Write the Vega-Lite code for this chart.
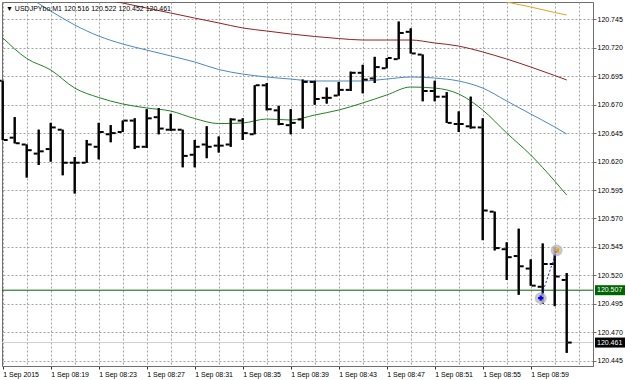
{
  "$schema": "https://vega.github.io/schema/vega-lite/v6.json",
  "width": 591,
  "height": 364,
  "autosize": "none",
  "padding": {"left": 2, "top": 2, "right": 32, "bottom": 14},
  "background": "white",
  "title": {"text": "▼  USDJPYbo,M1  120.516 120.522 120.452 120.461", "anchor": "start", "orient": "top", "frame": "group", "offset": -10, "dx": 4, "fontSize": 7, "fontWeight": "normal", "font": "Liberation Sans", "color": "#000000"},
  "datasets": {
    "bars": [
      {"t": "2015-09-01T08:15:00Z", "open": 120.691, "high": 120.691, "low": 120.639, "close": 120.639},
      {"t": "2015-09-01T08:16:00Z", "open": 120.641, "high": 120.659, "low": 120.636, "close": 120.636},
      {"t": "2015-09-01T08:17:00Z", "open": 120.635, "high": 120.635, "low": 120.606, "close": 120.630},
      {"t": "2015-09-01T08:18:00Z", "open": 120.627, "high": 120.648, "low": 120.617, "close": 120.629},
      {"t": "2015-09-01T08:19:00Z", "open": 120.631, "high": 120.654, "low": 120.620, "close": 120.650},
      {"t": "2015-09-01T08:20:00Z", "open": 120.648, "high": 120.648, "low": 120.608, "close": 120.619},
      {"t": "2015-09-01T08:21:00Z", "open": 120.619, "high": 120.624, "low": 120.592, "close": 120.619},
      {"t": "2015-09-01T08:22:00Z", "open": 120.619, "high": 120.639, "low": 120.619, "close": 120.635},
      {"t": "2015-09-01T08:23:00Z", "open": 120.633, "high": 120.654, "low": 120.622, "close": 120.646},
      {"t": "2015-09-01T08:24:00Z", "open": 120.644, "high": 120.652, "low": 120.637, "close": 120.645},
      {"t": "2015-09-01T08:25:00Z", "open": 120.646, "high": 120.656, "low": 120.646, "close": 120.656},
      {"t": "2015-09-01T08:26:00Z", "open": 120.656, "high": 120.658, "low": 120.631, "close": 120.633},
      {"t": "2015-09-01T08:27:00Z", "open": 120.633, "high": 120.666, "low": 120.632, "close": 120.658},
      {"t": "2015-09-01T08:28:00Z", "open": 120.659, "high": 120.667, "low": 120.644, "close": 120.649},
      {"t": "2015-09-01T08:29:00Z", "open": 120.648, "high": 120.662, "low": 120.647, "close": 120.648},
      {"t": "2015-09-01T08:30:00Z", "open": 120.648, "high": 120.648, "low": 120.615, "close": 120.625},
      {"t": "2015-09-01T08:31:00Z", "open": 120.626, "high": 120.639, "low": 120.615, "close": 120.633},
      {"t": "2015-09-01T08:32:00Z", "open": 120.635, "high": 120.651, "low": 120.623, "close": 120.633},
      {"t": "2015-09-01T08:33:00Z", "open": 120.634, "high": 120.642, "low": 120.628, "close": 120.634},
      {"t": "2015-09-01T08:34:00Z", "open": 120.635, "high": 120.658, "low": 120.633, "close": 120.657},
      {"t": "2015-09-01T08:35:00Z", "open": 120.656, "high": 120.658, "low": 120.639, "close": 120.645},
      {"t": "2015-09-01T08:36:00Z", "open": 120.644, "high": 120.687, "low": 120.644, "close": 120.687},
      {"t": "2015-09-01T08:37:00Z", "open": 120.687, "high": 120.689, "low": 120.665, "close": 120.666},
      {"t": "2015-09-01T08:38:00Z", "open": 120.665, "high": 120.669, "low": 120.652, "close": 120.653},
      {"t": "2015-09-01T08:39:00Z", "open": 120.652, "high": 120.666, "low": 120.644, "close": 120.654},
      {"t": "2015-09-01T08:40:00Z", "open": 120.657, "high": 120.692, "low": 120.649, "close": 120.690},
      {"t": "2015-09-01T08:41:00Z", "open": 120.690, "high": 120.691, "low": 120.670, "close": 120.675},
      {"t": "2015-09-01T08:42:00Z", "open": 120.676, "high": 120.685, "low": 120.671, "close": 120.676},
      {"t": "2015-09-01T08:43:00Z", "open": 120.678, "high": 120.690, "low": 120.678, "close": 120.683},
      {"t": "2015-09-01T08:44:00Z", "open": 120.683, "high": 120.699, "low": 120.682, "close": 120.698},
      {"t": "2015-09-01T08:45:00Z", "open": 120.698, "high": 120.705, "low": 120.680, "close": 120.692},
      {"t": "2015-09-01T08:46:00Z", "open": 120.693, "high": 120.712, "low": 120.689, "close": 120.703},
      {"t": "2015-09-01T08:47:00Z", "open": 120.702, "high": 120.711, "low": 120.702, "close": 120.711},
      {"t": "2015-09-01T08:48:00Z", "open": 120.710, "high": 120.743, "low": 120.710, "close": 120.733},
      {"t": "2015-09-01T08:49:00Z", "open": 120.734, "high": 120.737, "low": 120.715, "close": 120.715},
      {"t": "2015-09-01T08:50:00Z", "open": 120.714, "high": 120.714, "low": 120.673, "close": 120.682},
      {"t": "2015-09-01T08:51:00Z", "open": 120.682, "high": 120.691, "low": 120.673, "close": 120.677},
      {"t": "2015-09-01T08:52:00Z", "open": 120.677, "high": 120.681, "low": 120.654, "close": 120.654},
      {"t": "2015-09-01T08:53:00Z", "open": 120.653, "high": 120.664, "low": 120.646, "close": 120.653},
      {"t": "2015-09-01T08:54:00Z", "open": 120.651, "high": 120.677, "low": 120.649, "close": 120.650},
      {"t": "2015-09-01T08:55:00Z", "open": 120.650, "high": 120.658, "low": 120.551, "close": 120.577},
      {"t": "2015-09-01T08:56:00Z", "open": 120.576, "high": 120.576, "low": 120.542, "close": 120.544},
      {"t": "2015-09-01T08:57:00Z", "open": 120.543, "high": 120.549, "low": 120.516, "close": 120.536},
      {"t": "2015-09-01T08:58:00Z", "open": 120.537, "high": 120.561, "low": 120.503, "close": 120.528},
      {"t": "2015-09-01T08:59:00Z", "open": 120.526, "high": 120.534, "low": 120.511, "close": 120.511},
      {"t": "2015-09-01T09:00:00Z", "open": 120.510, "high": 120.548, "low": 120.495, "close": 120.530},
      {"t": "2015-09-01T09:01:00Z", "open": 120.530, "high": 120.545, "low": 120.493, "close": 120.519},
      {"t": "2015-09-01T09:02:00Z", "open": 120.516, "high": 120.522, "low": 120.452, "close": 120.461}
    ],
    "ma": [
      {"t": "2015-09-01T08:15:00Z", "g": 120.7288, "b": 120.7795, "r": 120.7839},
      {"t": "2015-09-01T08:17:00Z", "g": 120.7106, "b": 120.7655, "r": 120.7787},
      {"t": "2015-09-01T08:19:00Z", "g": 120.7005, "b": 120.7523, "r": 120.7734},
      {"t": "2015-09-01T08:21:00Z", "g": 120.6846, "b": 120.7400, "r": 120.7681},
      {"t": "2015-09-01T08:23:00Z", "g": 120.6763, "b": 120.7303, "r": 120.7637},
      {"t": "2015-09-01T08:25:00Z", "g": 120.6706, "b": 120.7233, "r": 120.7593},
      {"t": "2015-09-01T08:27:00Z", "g": 120.6671, "b": 120.7180, "r": 120.7549},
      {"t": "2015-09-01T08:29:00Z", "g": 120.6644, "b": 120.7128, "r": 120.7505},
      {"t": "2015-09-01T08:31:00Z", "g": 120.6578, "b": 120.7075, "r": 120.7461},
      {"t": "2015-09-01T08:33:00Z", "g": 120.6534, "b": 120.7009, "r": 120.7418},
      {"t": "2015-09-01T08:35:00Z", "g": 120.6539, "b": 120.6969, "r": 120.7374},
      {"t": "2015-09-01T08:37:00Z", "g": 120.6574, "b": 120.6943, "r": 120.7347},
      {"t": "2015-09-01T08:39:00Z", "g": 120.6565, "b": 120.6925, "r": 120.7321},
      {"t": "2015-09-01T08:41:00Z", "g": 120.6609, "b": 120.6908, "r": 120.7299},
      {"t": "2015-09-01T08:43:00Z", "g": 120.6653, "b": 120.6908, "r": 120.7281},
      {"t": "2015-09-01T08:45:00Z", "g": 120.6715, "b": 120.6908, "r": 120.7268},
      {"t": "2015-09-01T08:47:00Z", "g": 120.6785, "b": 120.6925, "r": 120.7268},
      {"t": "2015-09-01T08:49:00Z", "g": 120.6855, "b": 120.6943, "r": 120.7268},
      {"t": "2015-09-01T08:51:00Z", "g": 120.6846, "b": 120.6934, "r": 120.7242},
      {"t": "2015-09-01T08:53:00Z", "g": 120.6794, "b": 120.6908, "r": 120.7215, "o": 120.7690},
      {"t": "2015-09-01T08:55:00Z", "g": 120.6653, "b": 120.6846, "r": 120.7163, "o": 120.7646},
      {"t": "2015-09-01T08:57:00Z", "g": 120.6451, "b": 120.6732, "r": 120.7101, "o": 120.7602},
      {"t": "2015-09-01T08:59:00Z", "g": 120.6258, "b": 120.6618, "r": 120.7031, "o": 120.7558},
      {"t": "2015-09-01T09:01:00Z", "g": 120.6029, "b": 120.6504, "r": 120.6956, "o": 120.7510},
      {"t": "2015-09-01T09:02:00Z", "g": 120.5906, "b": 120.6442, "r": 120.6917, "o": 120.7488}
    ],
    "levels": [
      {"price": 120.507, "label": "120.507", "kind": "level"},
      {"price": 120.461, "label": "120.461", "kind": "bid"}
    ],
    "trade": [
      {"t": "2015-09-01T08:59:50Z", "price": 120.500, "kind": "open"},
      {"t": "2015-09-01T09:01:10Z", "price": 120.542, "kind": "close"}
    ]
  },
  "config": {
    "view": {"stroke": "#6e6e6e", "strokeWidth": 1},
    "font": "Liberation Sans",
    "axis": {
      "labelFont": "Liberation Sans",
      "labelFontSize": 7,
      "labelColor": "#000000",
      "labelOverlap": false,
      "domainColor": "#6e6e6e",
      "tickColor": "#6e6e6e"
    }
  },
  "resolve": {"scale": {"color": "independent", "shape": "independent"}},
  "layer": [
    {
      "data": {"name": "bars"},
      "mark": {"type": "rule", "strokeWidth": 2, "color": "#000000"},
      "encoding": {
        "x": {
          "field": "t", "type": "temporal",
          "scale": {"type": "utc", "domain": [1441095296500, 1441098251500]},
          "axis": {
            "orient": "bottom",
            "values": [1441095300000, 1441095420000, 1441095540000, 1441095660000, 1441095780000, 1441095900000, 1441096020000, 1441096140000, 1441096260000, 1441096380000, 1441096500000, 1441096620000, 1441096740000, 1441096860000, 1441096980000, 1441097100000, 1441097220000, 1441097340000, 1441097460000, 1441097580000, 1441097700000, 1441097820000, 1441097940000, 1441098060000, 1441098180000],
            "tickCount": 40,
            "labelExpr": "(utcminutes(datum.value) % 4 != 3 || datum.value > 1441098000000) ? '' : ((utchours(datum.value) == 8 && utcminutes(datum.value) == 15) ? '1 Sep 2015' : utcFormat(datum.value, '%-d %b %H:%M'))",
            "labelAlign": "left",
            "labelPadding": 1,
            "labelOverlap": false,
            "labelFlush": false,
            "tickSize": 3,
            "tickColor": {"condition": {"test": "utcminutes(datum.value) % 4 == 3 && datum.value < 1441098000000", "value": "#333333"}, "value": "transparent"},
            "grid": true,
            "gridColor": "#a4a4a4",
            "gridOpacity": 1,
            "gridDash": [2, 2],
            "gridWidth": 1,
            "title": null
          }
        },
        "y": {
          "field": "low", "type": "quantitative",
          "scale": {"domain": [120.4404, 120.7602], "nice": false, "zero": false},
          "axis": {
            "orient": "right",
            "values": [120.445, 120.47, 120.495, 120.52, 120.545, 120.57, 120.595, 120.62, 120.645, 120.67, 120.695, 120.72, 120.745],
            "tickCount": 30,
            "format": ".3f",
            "tickSize": 3,
            "labelPadding": 1,
            "labelOverlap": false,
            "grid": true,
            "gridColor": "#a4a4a4",
            "gridOpacity": 1,
            "gridDash": [2, 2],
            "gridWidth": 1,
            "title": null
          }
        },
        "y2": {"field": "high"}
      }
    },
    {
      "data": {"name": "levels"},
      "mark": {"type": "rule", "strokeWidth": 1},
      "encoding": {
        "y": {"field": "price", "type": "quantitative", "scale": {"domain": [120.4404, 120.7602], "nice": false, "zero": false}},
        "color": {"field": "kind", "type": "nominal", "scale": {"domain": ["level", "bid"], "range": ["#006400", "#cfcfcf"]}, "legend": null}
      }
    },
    {
      "data": {"name": "ma"},
      "transform": [
        {"fold": ["g", "b", "r", "o"], "as": ["ma", "value"]},
        {"filter": "isValid(datum.value)"}
      ],
      "mark": {"type": "line", "strokeWidth": 1, "clip": true, "interpolate": "monotone"},
      "encoding": {
        "x": {"field": "t", "type": "temporal", "scale": {"type": "utc", "domain": [1441095296500, 1441098251500]}},
        "y": {"field": "value", "type": "quantitative", "scale": {"domain": [120.4404, 120.7602], "nice": false, "zero": false}},
        "color": {"field": "ma", "type": "nominal", "scale": {"domain": ["g", "b", "r", "o"], "range": ["#1f841f", "#4a88c4", "#962020", "#e8a21c"]}, "legend": null}
      }
    },
    {
      "data": {"name": "bars"},
      "mark": {"type": "rule", "strokeWidth": 2, "color": "#000000"},
      "encoding": {
        "x": {"field": "t", "type": "temporal", "scale": {"type": "utc", "domain": [1441095296500, 1441098251500]}},
        "y": {"field": "low", "type": "quantitative", "scale": {"domain": [120.4404, 120.7602], "nice": false, "zero": false}},
        "y2": {"field": "high"}
      }
    },
    {
      "data": {"name": "bars"},
      "mark": {"type": "tick", "orient": "horizontal", "size": 4, "thickness": 2, "xOffset": -3, "color": "#000000", "opacity": 1},
      "encoding": {
        "x": {"field": "t", "type": "temporal", "scale": {"type": "utc", "domain": [1441095296500, 1441098251500]}},
        "y": {"field": "open", "type": "quantitative", "scale": {"domain": [120.4404, 120.7602], "nice": false, "zero": false}}
      }
    },
    {
      "data": {"name": "bars"},
      "mark": {"type": "tick", "orient": "horizontal", "size": 4, "thickness": 2, "xOffset": 3, "color": "#000000", "opacity": 1},
      "encoding": {
        "x": {"field": "t", "type": "temporal", "scale": {"type": "utc", "domain": [1441095296500, 1441098251500]}},
        "y": {"field": "close", "type": "quantitative", "scale": {"domain": [120.4404, 120.7602], "nice": false, "zero": false}}
      }
    },
    {
      "data": {"name": "trade"},
      "mark": {"type": "circle", "size": 140, "color": "#bdbdbd", "opacity": 0.85},
      "encoding": {
        "x": {"field": "t", "type": "temporal", "scale": {"type": "utc", "domain": [1441095296500, 1441098251500]}},
        "y": {"field": "price", "type": "quantitative", "scale": {"domain": [120.4404, 120.7602], "nice": false, "zero": false}}
      }
    },
    {
      "data": {"name": "trade"},
      "mark": {"type": "line", "strokeWidth": 1, "strokeDash": [2, 2], "color": "#1a1aff"},
      "encoding": {
        "x": {"field": "t", "type": "temporal", "scale": {"type": "utc", "domain": [1441095296500, 1441098251500]}},
        "y": {"field": "price", "type": "quantitative", "scale": {"domain": [120.4404, 120.7602], "nice": false, "zero": false}}
      }
    },
    {
      "data": {"name": "trade"},
      "mark": {"type": "point", "filled": true, "size": 28, "opacity": 1},
      "encoding": {
        "x": {"field": "t", "type": "temporal", "scale": {"type": "utc", "domain": [1441095296500, 1441098251500]}},
        "y": {"field": "price", "type": "quantitative", "scale": {"domain": [120.4404, 120.7602], "nice": false, "zero": false}},
        "shape": {"field": "kind", "type": "nominal", "scale": {"domain": ["open", "close"], "range": ["cross", "triangle-left"]}, "legend": null},
        "color": {"field": "kind", "type": "nominal", "scale": {"domain": ["open", "close"], "range": ["#0000ff", "#f0a000"]}, "legend": null}
      }
    },
    {
      "data": {"name": "levels"},
      "mark": {"type": "tick", "orient": "horizontal", "size": 30, "thickness": 10, "xOffset": 17, "opacity": 1, "clip": false},
      "encoding": {
        "x": {"value": "width"},
        "y": {"field": "price", "type": "quantitative", "scale": {"domain": [120.4404, 120.7602], "nice": false, "zero": false}},
        "color": {"field": "kind", "type": "nominal", "scale": {"domain": ["level", "bid"], "range": ["#006400", "#000000"]}, "legend": null}
      }
    },
    {
      "data": {"name": "levels"},
      "mark": {"type": "text", "align": "left", "baseline": "middle", "xOffset": 4, "fontSize": 7, "font": "Liberation Sans", "color": "#ffffff", "clip": false},
      "encoding": {
        "x": {"value": "width"},
        "y": {"field": "price", "type": "quantitative", "scale": {"domain": [120.4404, 120.7602], "nice": false, "zero": false}},
        "text": {"field": "label"}
      }
    }
  ]
}
